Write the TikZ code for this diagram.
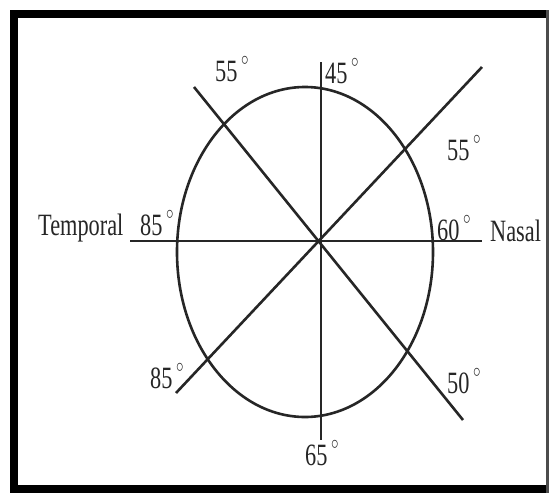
\documentclass[tikz,border=0pt]{standalone}
\usepackage{fontspec}
\setmainfont{Liberation Serif}
\newcommand{\sqz}[1]{\scalebox{0.72}[1]{#1}}
\newcommand{\dg}{\,\raisebox{6pt}{$^{\circ}$}}
\tikzset{
  ln/.style={draw=black!85, line width=2.6pt},
  lbl/.style={inner sep=0pt, anchor=base west, text=black!85, font=\fontsize{31}{31}\selectfont},
}
\begin{document}
\begin{tikzpicture}[x=1pt,y=-1pt]
\useasboundingbox (0,0) rectangle (550,493);
\fill[white] (0,0) rectangle (550,493);
% frame
\fill[black] (10,10) rectangle (549,18);
\fill[black] (10,10) rectangle (18,493);
\fill[black] (10,485) rectangle (549,493);
\fill[black!70] (546,10) rectangle (548.5,493);
% coordinates
\coordinate (C) at (321,242);
\coordinate (vT) at (321,62);
\coordinate (vB) at (321,440);
\coordinate (hL) at (130,241);
\coordinate (hR) at (482,241);
\coordinate (dNW) at (194,87);
\coordinate (dSE) at (463,420);
\coordinate (dNE) at (482,67);
\coordinate (dSW) at (176,393);
% ellipse
\draw[ln] (305,252) ellipse [x radius=128, y radius=165];
% lines
\draw[ln] (vT) -- (vB);
\draw[ln] (hL) -- (hR);
\draw[ln] (dNW) -- (dSE);
\draw[ln] (dNE) -- (dSW);
% labels
\node[lbl] (l55a) at (215,81) {\sqz{55\dg}};
\node[lbl] (l45) at (325,83) {\sqz{45\dg}};
\node[lbl] (l55b) at (447,160) {\sqz{55\dg}};
\node[lbl] (temp) at (38,235) {\sqz{Temporal}};
\node[lbl] (l85a) at (140,235) {\sqz{85\dg}};
\node[lbl] (l60) at (437,240) {\sqz{60\dg}};
\node[lbl] (nasal) at (490,241) {\sqz{Nasal}};
\node[lbl] (l85b) at (150,388) {\sqz{85\dg}};
\node[lbl] (l50) at (447,393) {\sqz{50\dg}};
\node[lbl] (l65) at (305,465) {\sqz{65\dg}};
\end{tikzpicture}
\end{document}
